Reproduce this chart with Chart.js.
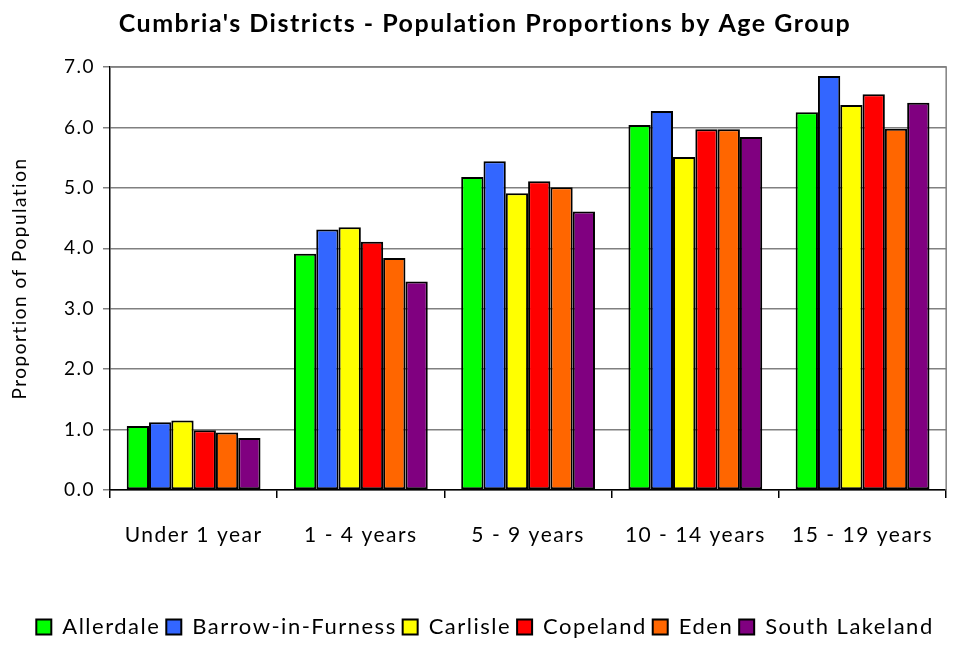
<!DOCTYPE html>
<html>
<head>
<meta charset="utf-8">
<script src="https://cdn.jsdelivr.net/npm/chart.js@4"></script>
<style>
  html, body { margin: 0; padding: 0; background: #fff; }
  #wrap { width: 958px; height: 648px; }
</style>
</head>
<body>
<div id="wrap"><canvas id="chart" width="958" height="648"></canvas></div>
<script>
// age groups along the x axis
const ageGroups = ['Under 1 year', '1 - 4 years', '5 - 9 years', '10 - 14 years', '15 - 19 years'];

// proportion of population (%) per district
const allerdale = [1.06, 3.91, 5.18, 6.04, 6.25];
const barrow = [1.12, 4.31, 5.44, 6.27, 6.85];
const carlisle = [1.15, 4.35, 4.91, 5.51, 6.37];
const copeland = [0.99, 4.11, 5.11, 5.97, 6.55];
const eden = [0.95, 3.84, 5.01, 5.97, 5.98];
const southLakeland = [0.86, 3.45, 4.61, 5.84, 6.41];

const yTicks = [0, 1, 2, 3, 4, 5, 6, 7];

const FONT = 'Lato, "DejaVu Sans", sans-serif';

// wider letter spacing, and a grey frame round the plot area (top and right sides)
const frame = {
    id: 'frame',
    beforeLayout(chart) { chart.ctx.letterSpacing = '1.5px'; },
    beforeDraw(chart) { chart.ctx.letterSpacing = '1.5px'; },
    afterDatasetsDraw(chart) {
        const a = chart.chartArea;
        const ctx = chart.ctx;
        ctx.save();
        ctx.strokeStyle = '#808080';
        ctx.lineWidth = 1.5;
        ctx.beginPath();
        ctx.moveTo(a.left, a.top);
        ctx.lineTo(a.right, a.top);
        ctx.lineTo(a.right, a.bottom);
        ctx.stroke();
        ctx.restore();
    }
};

function ds(label, data, color) {
    return {
        label: label,
        data: data,
        backgroundColor: color,
        borderColor: '#000',
        borderWidth: 2,
        borderSkipped: false,
        categoryPercentage: 0.8,
        barPercentage: 1.0
    };
}

new Chart(document.getElementById('chart'), {
    type: 'bar',
    data: {
        labels: ageGroups,
        datasets: [
            ds('Allerdale', allerdale, '#00FF00'),
            ds('Barrow-in-Furness', barrow, '#3366FF'),
            ds('Carlisle', carlisle, '#FFFF00'),
            ds('Copeland', copeland, '#FF0000'),
            ds('Eden', eden, '#FF6600'),
            ds('South Lakeland', southLakeland, '#800080')
        ]
    },
    options: {
        responsive: false,
        animation: false,
        layout: { padding: { top: 7, right: -4, bottom: 0, left: 8 } },
        plugins: {
            title: {
                display: true,
                text: "Cumbria's Districts - Population Proportions by Age Group",
                color: '#000',
                font: { family: FONT, size: 25, weight: 'bold' },
                padding: { top: 2, bottom: 28 }
            },
            legend: {
                position: 'bottom',
                labels: {
                    color: '#000',
                    font: { family: FONT, size: 22 },
                    boxWidth: 15,
                    boxHeight: 15,
                    padding: 6
                }
            },
            tooltip: { enabled: false }
        },
        scales: {
            y: {
                min: 0,
                max: 7,
                afterBuildTicks: function(scale) {
                    scale.ticks = yTicks.map(v => ({ value: v }));
                },
                ticks: {
                    color: '#000',
                    font: { family: FONT, size: 19 },
                    padding: 8,
                    callback: v => v.toFixed(1)
                },
                grid: { color: '#808080', lineWidth: 1.5, tickLength: 7 },
                border: { color: '#000', width: 1.5 },
                title: {
                    display: true,
                    text: 'Proportion of Population',
                    color: '#000',
                    font: { family: FONT, size: 19 },
                    padding: { top: 0, bottom: 6 }
                },
                afterFit: function(scale) { scale.width = 102; }
            },
            x: {
                ticks: {
                    color: '#000',
                    font: { family: FONT, size: 21 },
                    padding: 25
                },
                grid: { offset: true, drawOnChartArea: false, color: '#000', lineWidth: 1.5, tickLength: 8 },
                border: { color: '#000', width: 1.5 },
                afterFit: function(scale) { scale.height = 120; }
            }
        }
    },
    plugins: [frame]
});
</script>
</body>
</html>
